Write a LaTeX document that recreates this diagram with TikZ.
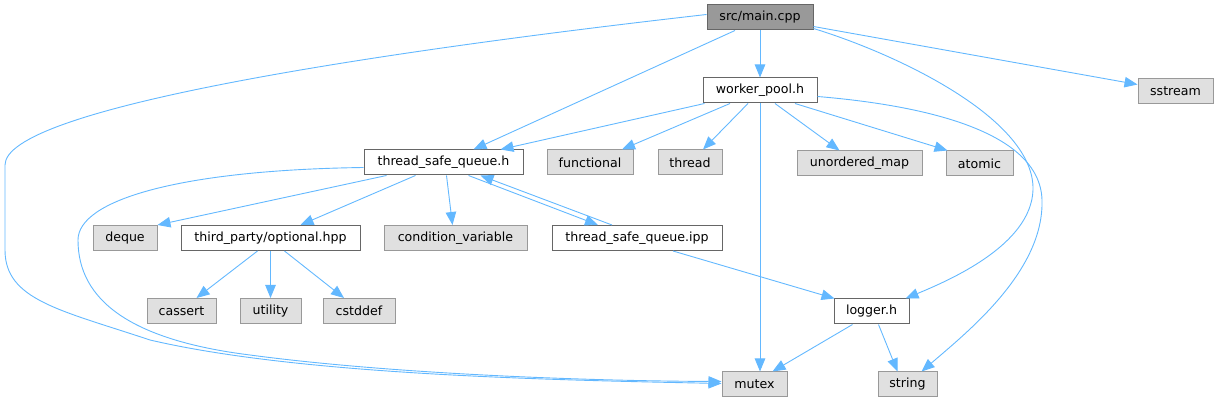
\documentclass[tikz,border=0pt]{standalone}
\usepackage{fontspec}
\setmainfont{DejaVu Sans}
\usepackage{tikz}
\usetikzlibrary{arrows.meta}
\usepackage{xcolor}

\definecolor{edgeblue}{HTML}{63B8FF}
\definecolor{darkline}{HTML}{666666}
\definecolor{lightline}{HTML}{999999}
\definecolor{sysfill}{HTML}{E0E0E0}
\definecolor{mainfill}{HTML}{999999}

\tikzset{
  hdrbox/.style={draw=darkline, fill=white, line width=1pt, rectangle,
    minimum height=25pt, inner sep=0pt, font=\fontsize{12.6}{15}\selectfont},
  sysbox/.style={hdrbox, draw=lightline, fill=sysfill},
  mainbox/.style={hdrbox, fill=mainfill},
  dep/.style={draw=edgeblue, line width=0.9pt, -{Triangle[length=13pt,width=10.5pt]}}
}

\begin{document}
\begin{tikzpicture}[x=1pt,y=-1pt]
\useasboundingbox (0,0) rectangle (1219,403);
% rows of the include graph
\node[mainbox, minimum width=106pt] (main) at (760,17.5) {src/main.cpp};
\node[hdrbox, minimum width=114pt] (worker) at (760,90.5) {worker\_pool.h};
\node[sysbox, minimum width=75pt] (sstream) at (1175.5,91.5) {sstream};
\node[hdrbox, minimum width=159pt] (tsq) at (443.5,162.5) {thread\_safe\_queue.h};
\node[sysbox, minimum width=86pt] (functional) at (590,162.5) {functional};
\node[sysbox, minimum width=64pt] (thread) at (690,162.5) {thread};
\node[sysbox, minimum width=125pt] (umap) at (859.5,163.5) {unordered\_map};
\node[sysbox, minimum width=67pt] (atomic) at (979.5,163.5) {atomic};
\node[sysbox, minimum width=64pt] (deque) at (125,238) {deque};
\node[hdrbox, minimum width=179pt] (optional) at (270.5,238) {third\_party/optional.hpp};
\node[sysbox, minimum width=143pt] (condvar) at (455.5,238) {condition\_variable};
\node[hdrbox, minimum width=170pt] (ipp) at (637,238) {thread\_safe\_queue.ipp};
\node[sysbox, minimum width=69pt] (cassert) at (181.5,311) {cassert};
\node[sysbox, minimum width=61pt] (utility) at (270.5,311) {utility};
\node[sysbox, minimum width=72pt] (cstddef) at (359,311) {cstddef};
\node[hdrbox, minimum width=75pt] (logger) at (871.5,311.5) {logger.h};
\node[sysbox, minimum width=65pt] (mutex) at (754.5,384.5) {mutex};
\node[sysbox, minimum width=59pt] (string) at (907.5,384.5) {string};

% src/main.cpp
\draw[dep] ([xshift=-25pt]main.south) -- ([xshift=30pt]tsq.north);
\draw[dep] (main.south) -- (worker.north);
\draw[dep] ([yshift=-9pt]main.east) -- ([yshift=7pt]sstream.west);
\draw[dep] ([yshift=-11pt]main.east) .. controls (900,55) and (1035,120) .. (1033,190)
  .. controls (1031,245) and (950,280) .. ([xshift=-4pt]logger.north east);
\draw[dep] ([yshift=3pt]main.west) .. controls (350,55) and (5,110) .. (5,165) -- (5,250)
  .. controls (5,300) and (60,310) .. (150,340)
  .. controls (300,375) and (550,380) .. ([yshift=1pt]mutex.west);

% worker_pool.h
\draw[dep] ([xshift=2pt]worker.south west) -- ([xshift=57pt]tsq.north);
\draw[dep] ([xshift=-30pt]worker.south) -- ([xshift=32pt]functional.north);
\draw[dep] ([xshift=-12pt]worker.south) -- ([xshift=13pt]thread.north);
\draw[dep] (worker.south) -- (worker.south |- mutex.north);
\draw[dep] ([xshift=15pt]worker.south) -- ([xshift=-20pt]umap.north);
\draw[dep] ([xshift=35pt]worker.south) -- ([xshift=2pt]atomic.north west);
\draw[dep] ([yshift=-6pt]worker.east) .. controls (920,105) and (1040,130) .. (1042,200)
  .. controls (1044,270) and (970,330) .. ([xshift=14pt]string.north);

% thread_safe_queue.h
\draw[dep] ([xshift=23pt]tsq.south west) -- (deque.north east);
\draw[dep] ([xshift=-28pt]tsq.south) -- ([xshift=30pt]optional.north);
\draw[dep] ([xshift=3pt]tsq.south) -- ([xshift=-3pt]condvar.north);
\draw[dep] ([xshift=25pt]tsq.south) -- ([xshift=-39pt]ipp.north);
\draw[dep] ([yshift=-5pt]tsq.west) .. controls (180,170) and (78,200) .. (78,240)
  .. controls (78,300) and (130,340) .. (250,355)
  .. controls (400,375) and (600,381) .. ([yshift=3pt]mutex.west);

% thread_safe_queue.ipp
\draw[dep] ([xshift=-25pt]ipp.north) -- ([xshift=37pt]tsq.south);
\draw[dep] ([xshift=36pt]ipp.south) -- ([xshift=1pt]logger.north west);

% third_party/optional.hpp
\draw[dep] ([xshift=-13pt]optional.south) -- ([xshift=15pt]cassert.north);
\draw[dep] (optional.south) -- (utility.north);
\draw[dep] ([xshift=14pt]optional.south) -- ([xshift=-15pt]cstddef.north);

% logger.h
\draw[dep] ([xshift=-19pt]logger.south) -- ([xshift=18pt]mutex.north);
\draw[dep] ([xshift=7pt]logger.south) -- ([xshift=-10pt]string.north);
\end{tikzpicture}
\end{document}
